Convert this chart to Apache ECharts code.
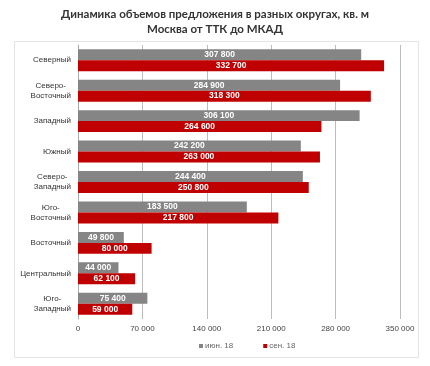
<!DOCTYPE html>
<html><head><meta charset="utf-8">
<script src="https://cdn.jsdelivr.net/npm/echarts@6/dist/echarts.min.js"></script>
<style>html,body{margin:0;padding:0;background:#fff}#c{width:430px;height:366px}</style>
</head><body><div id="c"></div>
<script>
const categories = ['Северный','Северо-\nВосточный','Западный','Южный','Северо-\nЗападный','Юго-\nВосточный','Восточный','Центральный','Юго-\nЗападный'];
const seriesNames = ['июн. 18','сен. 18'];
const jun18 = [307800,284900,306100,242200,244400,183500,49800,44000,75400];
const sep18 = [332700,318300,264600,263000,250800,217800,80000,62100,59000];
const xTicks = [0,70000,140000,210000,280000,350000];

function fmt(v){ return String(v).replace(/\B(?=(\d{3})+(?!\d))/g,' '); }

const chart = echarts.init(document.getElementById('c'));
const labelCfg = {show:true, position:'inside', color:'#fff', fontWeight:'bold', fontSize:8.5, fontFamily:'Liberation Sans, Arial', formatter:p=>fmt(p.value)};
chart.setOption({
  animation:false,
  title:{text:'Динамика объемов предложения в разных округах, кв. м\nМосква от ТТК до МКАД', left:'center', top:2,
    textStyle:{fontFamily:'Lato', fontWeight:'bold', fontSize:11.5, color:'#333', lineHeight:15}},
  graphic:[{type:'rect', shape:{x:14.5,y:41.5,width:404,height:316}, style:{fill:'none', stroke:'#e4e4e4', lineWidth:1}, z:-1}],
  legend:{top:337, left:194, itemWidth:4, itemHeight:4, itemGap:30, icon:'rect',
    textStyle:{fontSize:8, color:'#666', fontFamily:'Liberation Sans, Arial', padding:[0,0,0,-3]}},
  grid:{left:78, right:30, top:45, bottom:47},
  xAxis:{type:'value', min:xTicks[0], max:xTicks[xTicks.length-1], interval:70000,
    axisLine:{show:false}, axisTick:{show:false},
    splitLine:{lineStyle:{color:'#bdbdbd'}},
    axisLabel:{fontSize:8, color:'#444', fontFamily:'Liberation Sans, Arial', margin:6, formatter:v=>fmt(v)}},
  yAxis:{type:'category', data:categories, inverse:true,
    axisLine:{lineStyle:{color:'#aaa'}}, axisTick:{show:false},
    axisLabel:{fontSize:8, color:'#333', fontFamily:'Liberation Sans, Arial', margin:7, lineHeight:10,
      formatter:v=>v.split('\n').map(s=>'{c|'+s+'}').join('\n'),
      rich:{c:{align:'center', fontSize:8, color:'#333', fontFamily:'Liberation Sans, Arial', lineHeight:10}}}},
  series:[
    {name:seriesNames[0], type:'bar', data:jun18, itemStyle:{color:'#858585'}, barGap:'0%', barCategoryGap:'28%', label:labelCfg},
    {name:seriesNames[1], type:'bar', data:sep18, itemStyle:{color:'#c00000'}, barGap:'0%', barCategoryGap:'28%', label:labelCfg}
  ]
});
</script></body></html>
